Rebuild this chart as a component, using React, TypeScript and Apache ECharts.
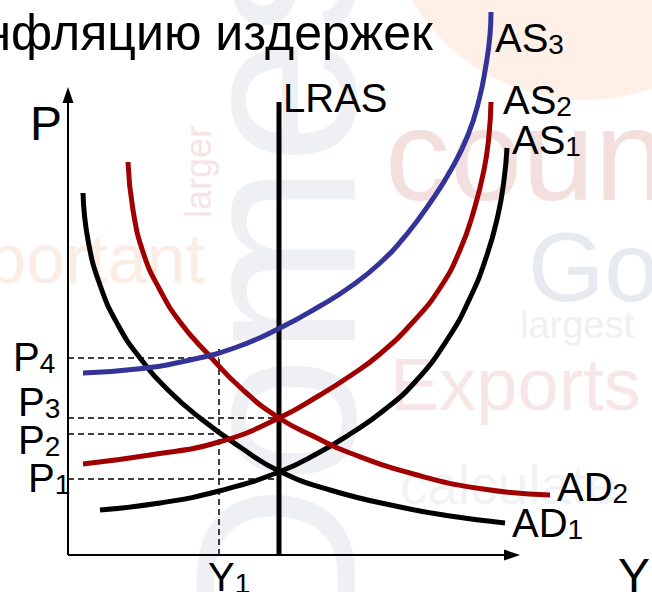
import React, { useEffect, useRef } from "react";
import * as echarts from "echarts";

// Data in diagram units (output Y horizontally, price level P vertically)
const adOne: [number, number][] = [
  [15, 362], [20, 315], [32, 270], [50, 230], [72, 197], [100, 165],
  [132, 137], [172, 108], [211, 84], [262, 65], [332, 48], [382, 39], [437, 32],
];
const adTwo: [number, number][] = [
  [60, 393], [65, 345], [76, 300], [92, 265], [112, 233], [139, 202],
  [175, 165], [211, 137], [247, 118], [282, 102], [349, 80], [415, 66], [482, 60],
];
const asOne: [number, number][] = [
  [32, 45], [92, 52], [151, 64], [211, 83], [252, 103], [282, 121],
  [315, 144], [347, 173], [379, 215], [402, 257], [419, 300], [430, 340],
  [436, 375], [439, 407],
];
const asTwo: [number, number][] = [
  [15, 91], [82, 100], [151, 113], [211, 137], [252, 160], [282, 179],
  [312, 201], [345, 233], [372, 267], [392, 305], [406, 345], [416, 385],
  [421, 420], [423, 453],
];
const asThree: [number, number][] = [
  [15, 182], [69, 186], [122, 195], [169, 208], [212, 227], [252, 249],
  [282, 268], [312, 292], [339, 321], [364, 355], [384, 387], [400, 420],
  [411, 455], [418, 490], [422, 520], [423, 543],
];
const lrasX = 211;
const lrasTop = 453;
const priceLevels = [76, 121, 137, 197]; // P1..P4
const priceLabels = ["1", "2", "3", "4"];
const priceEnds = [211, 151, 211, 151];
const outputLevel = 151; // Y1
const outputTop = 209;
const axisEndX = 444;
const axisEndY = 460;

const FONT = "'Liberation Sans', Arial, sans-serif";
const RED = "#a00000";
const BLUE = "#333399";

export default function App() {
  const ref = useRef<HTMLDivElement>(null);
  useEffect(() => {
    document.body.style.margin = "0";
    if (!ref.current) return;
    const chart = echarts.init(ref.current, null, { renderer: "svg" });

    const curve = (name: string, data: [number, number][], color: string, width = 5) => ({
      name,
      type: "line",
      data,
      smooth: 0.5,
      showSymbol: false,
      symbol: "none",
      clip: false,
      silent: true,
      lineStyle: { color, width, cap: "butt" },
      z: 5,
    });
    const dashed = (data: [number, number][]) => ({
      type: "line",
      data,
      showSymbol: false,
      symbol: "none",
      clip: false,
      silent: true,
      lineStyle: { color: "#000", width: 1.5, type: [6, 4] },
      z: 3,
    });

    const rich = (size: number, sub: number) => ({
      a: { fontSize: size, fontFamily: FONT, fill: "#000", verticalAlign: "bottom", lineHeight: size },
      b: { fontSize: sub, fontFamily: FONT, fill: "#000", verticalAlign: "bottom", lineHeight: size },
    });
    const label = (x: number, y: number, main: string, sub: string, size = 40, subSize = 28) => ({
      type: "text",
      x,
      y,
      z: 100,
      silent: true,
      style: {
        text: sub ? `{a|${main}}{b|${sub}}` : `{a|${main}}`,
        rich: rich(size, subSize),
        verticalAlign: "top",
      },
    });
    const bgText = (x: number, y: number, text: string, size: number, fill: string, extra: any = {}) => ({
      type: "text",
      x,
      y,
      z: -10,
      silent: true,
      ...extra,
      style: { text, fontSize: size, fontFamily: FONT, fill, verticalAlign: "top", ...(extra.style || {}) },
    });

    const pLabelPos: [number, number][] = [
      [28, 458], [18, 420], [18, 382], [13, 337],
    ];

    const hiddenAxis = {
      type: "value",
      axisLine: { show: false },
      axisTick: { show: false },
      axisLabel: { show: false },
      splitLine: { show: false },
    };

    const option: any = {
      animation: false,
      grid: { left: 0, right: 0, top: 0, bottom: 0 },
      xAxis: { ...hiddenAxis, min: -68, max: 584 },
      yAxis: { ...hiddenAxis, min: -37, max: 555 },
      graphic: [
        { type: "circle", z: -20, silent: true, shape: { cx: 585, cy: -100, r: 200 }, style: { fill: "#fef0e7" } },
        bgText(160, 650, "Domestic", 230, "#eef0f3", { rotation: Math.PI / 2 }),
        bgText(385, 90, "count", 130, "#f4dfdf"),
        bgText(528, 218, "Go", 98, "#e7eaee"),
        bgText(520, 306, "largest", 38, "#eef0f2"),
        bgText(390, 347, "Exports", 74, "#f7e6e6"),
        bgText(400, 457, "calculate", 55, "#f0f2f4"),
        bgText(205, 224, "portant", 70, "#fcede4", { style: { textAlign: "right" } }),
        bgText(180, 218, "larger", 36, "#f7e3e3", { rotation: Math.PI / 2 }),
        {
          type: "text",
          x: 433,
          y: 8,
          z: 100,
          silent: true,
          style: { text: "инфляцию издержек", fontSize: 50, fontFamily: FONT, fill: "#000", textAlign: "right", verticalAlign: "top" },
        },
        label(30, 99, "P", "", 48),
        label(618, 551, "Y", "", 48),
        label(283, 78, "LRAS", ""),
        label(495, 18, "AS", "3"),
        label(503, 80, "AS", "2"),
        label(512, 120, "AS", "1"),
        label(557, 467, "AD", "2"),
        label(512, 503, "AD", "1"),
        label(208, 557, "Y", "1"),
        ...priceLabels.map((s, i) => label(pLabelPos[i][0], pLabelPos[i][1], "P", s)),
      ],
      series: [
        ...priceLevels.map((p, i) => dashed([[0, p], [priceEnds[i], p]])),
        dashed([[outputLevel, 0], [outputLevel, outputTop]]),
        {
          type: "line",
          data: [[lrasX, 0], [lrasX, lrasTop]],
          showSymbol: false,
          symbol: "none",
          clip: false,
          silent: true,
          lineStyle: { color: "#000", width: 5 },
          z: 4,
          markLine: {
            silent: true,
            symbol: ["none", "triangle"],
            symbolSize: [11, 16],
            label: { show: false },
            lineStyle: { color: "#000", width: 2, type: "solid" },
            data: [
              [{ coord: [0, 0] }, { coord: [axisEndX, 0] }],
              [{ coord: [0, 0] }, { coord: [0, axisEndY] }],
            ],
          },
        },
        curve("AD1", adOne, "#000"),
        curve("AS1", asOne, "#000"),
        curve("AD2", adTwo, RED),
        curve("AS2", asTwo, RED),
        curve("AS3", asThree, BLUE),
      ],
    };
    chart.setOption(option);
    return () => chart.dispose();
  }, []);
  return <div ref={ref} style={{ width: 652, height: 592 }} />;
}
